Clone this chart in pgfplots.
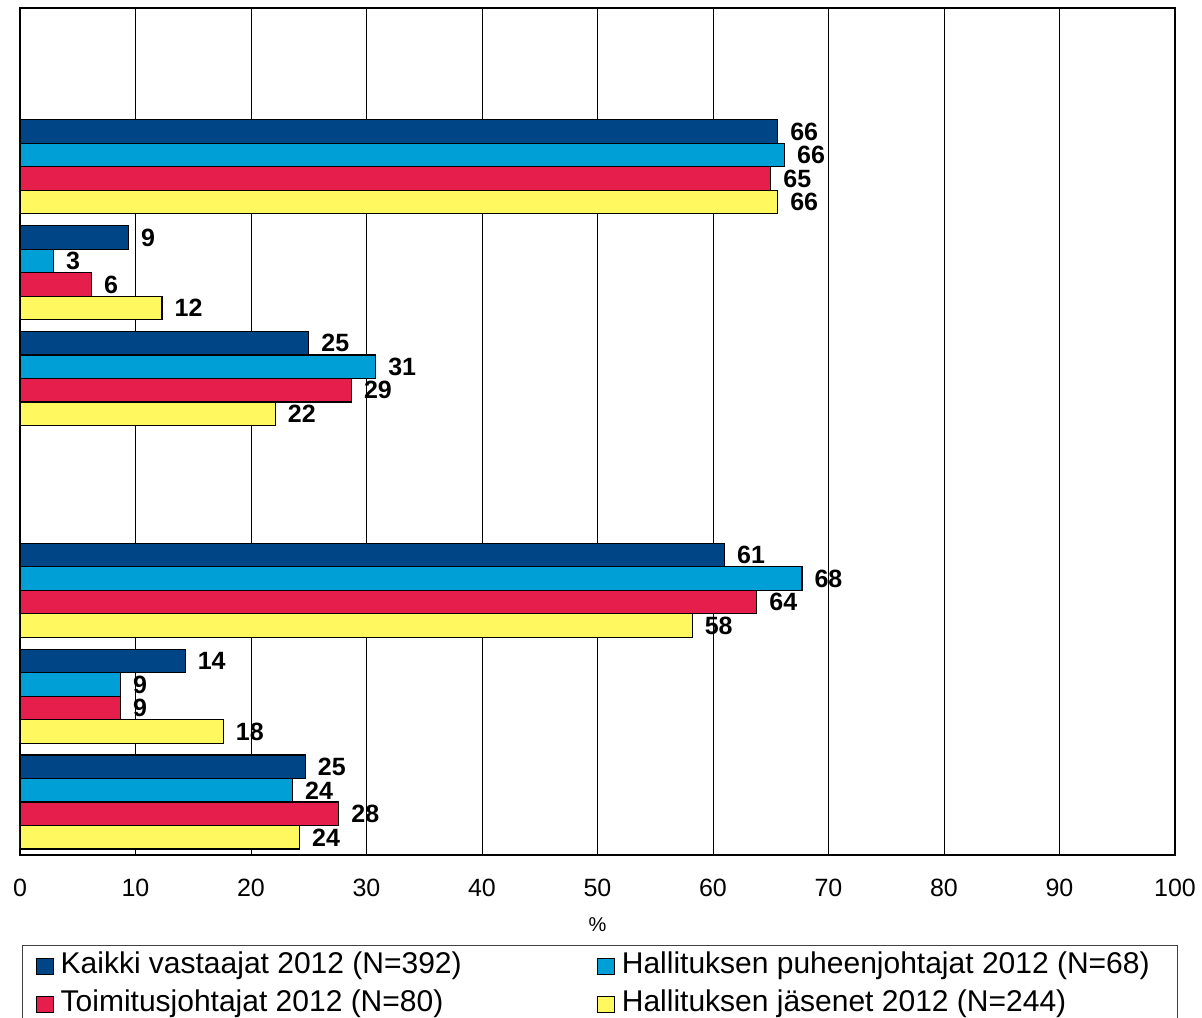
\documentclass[border=0pt]{standalone}
\usepackage{pgfplots}
\pgfplotsset{compat=1.18}
\usepackage{fontspec}
\setmainfont{Liberation Sans}
\definecolor{cnavy}{RGB}{0,70,135}
\definecolor{ccyan}{RGB}{0,160,215}
\definecolor{cred}{RGB}{230,30,75}
\definecolor{cyel}{RGB}{255,248,95}
\begin{document}
\begin{tikzpicture}
\begin{axis}[
  at={(20bp,-855bp)}, anchor=south west,
  scale only axis, width=1155bp, height=847bp,
  xbar, bar width=23.5bp,
  xmin=0, xmax=100, ymin=-0.5, ymax=7.5,
  xtick={0,10,...,100},
  ytick=\empty,
  xmajorgrids, grid style={black, line width=1bp},
  axis line style={black, line width=1.3bp},
  major tick length=0pt,
  /pgf/number format/assume math mode=true,
  xticklabel style={font=\fontsize{25bp}{30bp}\selectfont, anchor=center, yshift=-33bp},
  xlabel={\%},
  xlabel style={font=\fontsize{20bp}{24bp}\selectfont, at={(axis description cs:0.5,-0.0826)}, anchor=center},
  point meta=x,
  nodes near coords={\pgfmathprintnumber[fixed,precision=0]{\pgfplotspointmeta}},
  nodes near coords style={font=\bfseries\fontsize{25bp}{30bp}\selectfont, anchor=west, inner sep=0pt, xshift=12bp},
  legend columns=2,
  legend image code/.code={\path (0bp,0bp) (24bp,0bp); \draw[#1, draw=black, line width=1bp] (0bp,-8bp) rectangle (17bp,8bp);},
  legend style={at={(axis description cs:0.0017,-0.1063)}, anchor=north west,
    draw=black!75, line width=1bp, inner xsep=13bp, inner ysep=6bp,
    column sep=0pt, row sep=8bp,
    font=\fontsize{30bp}{36bp}\selectfont,
    nodes={inner sep=0pt, anchor=west, text height=22bp, text depth=8bp}},
]
\addplot[fill=cnavy, draw=black, line width=1.2bp, bar shift=35.25bp] coordinates {(65.6,6) (9.4,5) (25.0,4) (61.0,2) (14.3,1) (24.7,0)};
\addlegendentry{\makebox[536bp][l]{Kaikki vastaajat 2012 (N=392)}}
\addplot[fill=ccyan, draw=black, line width=1.2bp, bar shift=11.75bp] coordinates {(66.2,6) (2.9,5) (30.8,4) (67.7,2) (8.7,1) (23.6,0)};
\addlegendentry{\makebox[543bp][l]{Hallituksen puheenjohtajat 2012 (N=68)}}
\addplot[fill=cred, draw=black, line width=1.2bp, bar shift=-11.75bp] coordinates {(65.0,6) (6.2,5) (28.7,4) (63.8,2) (8.7,1) (27.6,0)};
\addlegendentry{\makebox[536bp][l]{Toimitusjohtajat 2012 (N=80)}}
\addplot[fill=cyel, draw=black, line width=1.2bp, bar shift=-35.25bp] coordinates {(65.6,6) (12.3,5) (22.1,4) (58.2,2) (17.6,1) (24.2,0)};
\addlegendentry{\makebox[543bp][l]{Hallituksen jäsenet 2012 (N=244)}}
\end{axis}
\pgfresetboundingbox
\useasboundingbox (0bp,0bp) rectangle (1202bp,-1018bp);
\end{tikzpicture}
\end{document}
